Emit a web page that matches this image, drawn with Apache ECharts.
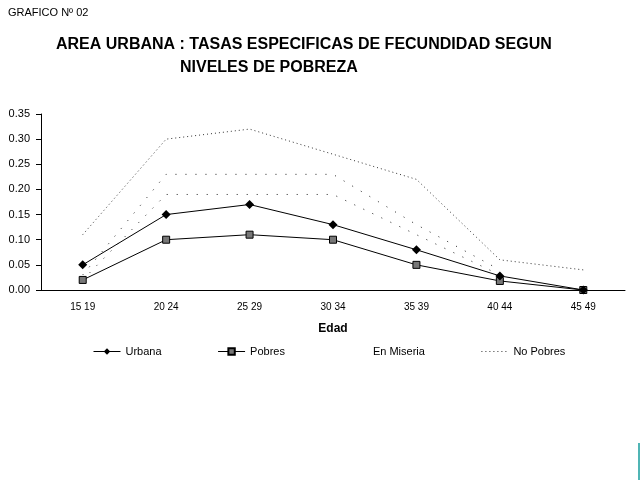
<!DOCTYPE html>
<html>
<head>
<meta charset="utf-8">
<script src="https://cdn.jsdelivr.net/npm/echarts@6/dist/echarts.min.js"></script>
<style>html,body{margin:0;padding:0;background:#fff;}#c{width:640px;height:480px;}</style>
</head>
<body>
<div id="c"></div>
<script>
const categories = ['15 19', '20 24', '25 29', '30 34', '35 39', '40 44', '45 49'];
const urbana = [0.05, 0.15, 0.17, 0.13, 0.08, 0.028, 0.0];
const pobres = [0.02, 0.10, 0.11, 0.10, 0.05, 0.018, 0.0];
const noPobres = [0.11, 0.30, 0.32, 0.27, 0.22, 0.06, 0.04];
const miseriaUpper = [0.03, 0.23, 0.23, 0.23, 0.13, 0.04, null];
const miseriaLower = [0.02, 0.19, 0.19, 0.19, 0.11, 0.03, null];
const yTicks = { min: 0, max: 0.35, interval: 0.05 };

const FONT = 'Liberation Sans, Arial, sans-serif';
const chart = echarts.init(document.getElementById('c'), null, { renderer: 'canvas' });
chart.setOption({
  animation: false,
  backgroundColor: '#fff',
  title: [
    { text: 'GRAFICO Nº 02', left: 3, top: 2, textStyle: { fontFamily: FONT, fontSize: 11, fontWeight: 'normal', color: '#000' } },
    { text: 'AREA URBANA : TASAS ESPECIFICAS DE FECUNDIDAD SEGUN', left: 51, top: 32, textStyle: { fontFamily: FONT, fontSize: 16, fontWeight: 'bold', color: '#000' } },
    { text: 'NIVELES DE POBREZA', left: 175, top: 55, textStyle: { fontFamily: FONT, fontSize: 16, fontWeight: 'bold', color: '#000' } }
  ],
  grid: { left: 41, right: 15, top: 114, bottom: 190, containLabel: false },
  legend: {
    left: 88, top: 341, itemWidth: 27, itemHeight: 8, itemGap: 56,
    lineStyle: { width: 1 },
    textStyle: { fontFamily: FONT, fontSize: 11, color: '#000' },
    data: [
      { name: 'Urbana' },
      { name: 'Pobres' },
      { name: 'En Miseria', icon: 'none' },
      { name: 'No Pobres', itemStyle: { color: 'transparent', borderColor: 'transparent', borderWidth: 0 } }
    ]
  },
  xAxis: {
    type: 'category', data: categories, boundaryGap: true,
    name: 'Edad', nameLocation: 'middle', nameGap: 33,
    nameTextStyle: { fontFamily: FONT, fontSize: 12, fontWeight: 'bold', color: '#000' },
    axisLine: { lineStyle: { color: '#000', width: 1 } },
    axisTick: { show: false },
    axisLabel: { fontFamily: FONT, fontSize: 10, color: '#000', margin: 12 },
    splitLine: { show: false }
  },
  yAxis: {
    type: 'value', min: yTicks.min, max: yTicks.max, interval: yTicks.interval,
    axisLine: { show: true, lineStyle: { color: '#000', width: 1 } },
    axisTick: { show: true, length: 5, lineStyle: { color: '#000' } },
    axisLabel: { fontFamily: FONT, fontSize: 11, color: '#000', margin: 11, formatter: v => v.toFixed(2) },
    splitLine: { show: false }
  },
  series: [
    { name: 'En Miseria', type: 'line', data: miseriaUpper, symbol: 'none', color: '#000',
      lineStyle: { type: [1, 9], width: 1, color: '#222' }, z: 1 },
    { name: 'En Miseria', type: 'line', data: miseriaLower, symbol: 'none', color: '#000',
      lineStyle: { type: [1, 9], width: 1, color: '#222' }, z: 1 },
    { name: 'No Pobres', type: 'line', data: noPobres, symbol: 'none', color: '#000',
      lineStyle: { type: [1, 3], width: 1, color: '#333' }, z: 2 },
    { name: 'Pobres', type: 'line', data: pobres, symbol: 'rect', symbolSize: 7, color: '#000',
      itemStyle: { color: '#777', borderColor: '#000', borderWidth: 1 },
      lineStyle: { width: 1, color: '#000' }, z: 3 },
    { name: 'Urbana', type: 'line', data: urbana, symbol: 'diamond', symbolSize: 9, color: '#000',
      itemStyle: { color: '#000' }, lineStyle: { width: 1, color: '#000' }, z: 4 }
  ],
  graphic: [
    { type: 'line', shape: { x1: 639, y1: 443, x2: 639, y2: 480 }, style: { stroke: '#169c9c', lineWidth: 1.5 } }
  ]
});
</script>
</body>
</html>
